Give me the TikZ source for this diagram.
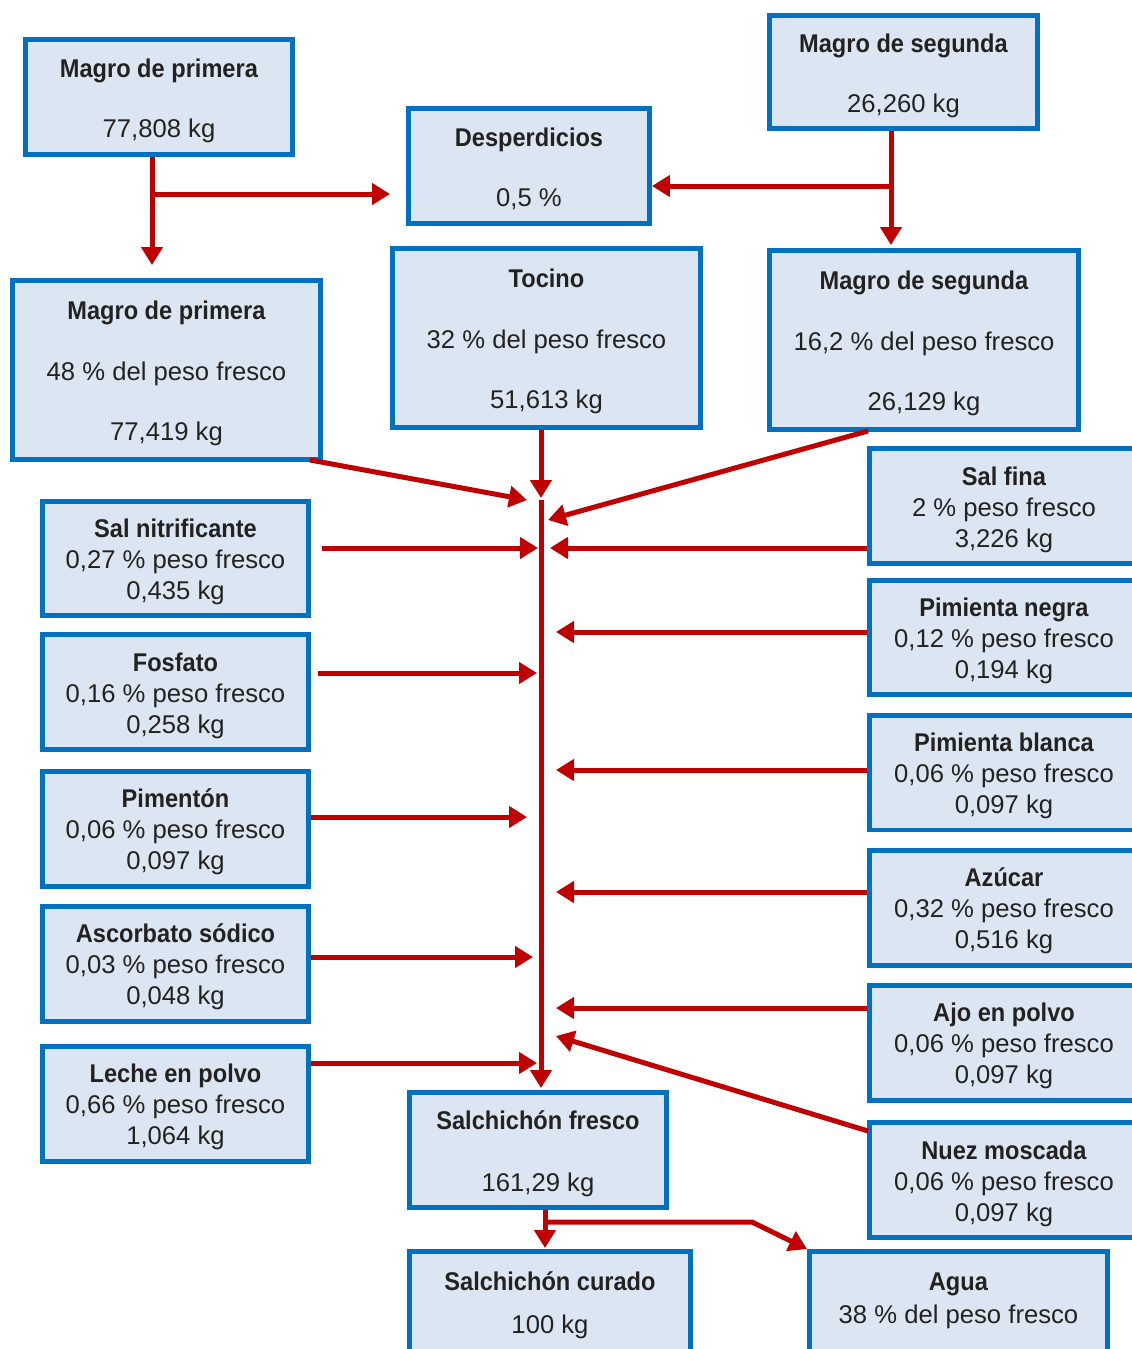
\documentclass[tikz,border=0pt]{standalone}
\usepackage{fontspec}
\setmainfont{Liberation Sans}[BoldFeatures={FakeStretch=0.92}]
\usetikzlibrary{arrows.meta}

\definecolor{boxblue}{RGB}{0,112,192}
\definecolor{boxfill}{RGB}{220,230,242}
\definecolor{flowred}{RGB}{192,0,0}
\definecolor{inkgray}{RGB}{34,34,34}
\newcommand{\hdstrut}{\rule{0pt}{16.6pt}}
\newcommand{\kgstrut}[1][5pt]{\rule[-#1]{0pt}{#1}}

\begin{document}
\begin{tikzpicture}
    [%%%%%%%%%%%%%%%%%%%%%%%%%%%%%%
        x=0.02cm, y=-0.02cm,
        box/.style={rectangle,draw=boxblue,line width=0.1cm,fill=boxfill,text=inkgray,
            align=center,inner sep=0pt,font=\fontsize{14.6}{17.6}\selectfont},
        side/.style={box,minimum width=5.32cm,minimum height=2.3cm},
        big/.style={box,minimum width=6.16cm,minimum height=3.58cm},
        flow/.style={draw=flowred,line width=0.1cm,-{Triangle[length=0.36cm,width=0.42cm]}},
    ]%%%%%%%%%%%%%%%%%%%%%%%%%%%%%%

\useasboundingbox (0,0) rectangle (1132,1349);
\clip (0,0) rectangle (1132,1349);

% raw meat
\node[box,minimum width=5.34cm,minimum height=2.3cm] (mp1) at (159,97)
    {\hdstrut\textbf{Magro de primera}\\[16.4pt]77,808 kg\kgstrut};
\node[box,minimum width=4.82cm,minimum height=2.3cm] (desp) at (529,166)
    {\hdstrut\textbf{Desperdicios}\\[16.4pt]0,5 \%\kgstrut};
\node[box,minimum width=5.36cm,minimum height=2.26cm] (ms1) at (903.5,72)
    {\hdstrut\textbf{Magro de segunda}\\[16.4pt]26,260 kg\kgstrut};

\node[big] (mp2) at (166.5,370)
    {\hdstrut\textbf{Magro de primera}\\[17pt]48 \% del peso fresco\\[17pt]77,419 kg\kgstrut};
\node[big] (tocino) at (546.5,338)
    {\hdstrut\textbf{Tocino}\\[17pt]32 \% del peso fresco\\[17pt]51,613 kg\kgstrut};
\node[big,minimum width=6.18cm] (ms2) at (924,340)
    {\hdstrut\textbf{Magro de segunda}\\[17pt]16,2 \% del peso fresco\\[17pt]26,129 kg\kgstrut};

% ingredients
\foreach \nm/\y/\ttl/\pct/\kgs in {salnit/558.5/Sal nitrificante/{0,27}/{0,435},
    fosfato/692/Fosfato/{0,16}/{0,258}, pimenton/828.5/Pimentón/{0,06}/{0,097},
    ascorbato/963.5/Ascorbato sódico/{0,03}/{0,048}, leche/1103.5/Leche en polvo/{0,66}/{1,064}}
    \node[side] (\nm) at (175.5,\y) {\hdstrut\textbf{\ttl}\\\pct~\% peso fresco\\\kgs~kg\kgstrut};

\foreach \nm/\y/\ttl/\pct/\kgs in {salfina/506/Sal fina/2/{3,226},
    pneg/637.5/Pimienta negra/{0,12}/{0,194}, pblanca/772.5/Pimienta blanca/{0,06}/{0,097},
    azucar/907.5/Azúcar/{0,32}/{0,516}, ajo/1042.5/Ajo en polvo/{0,06}/{0,097},
    nuez/1180/Nuez moscada/{0,06}/{0,097}}
    \node[side,minimum width=5.38cm] (\nm) at (1004,\y) {\hdstrut\textbf{\ttl}\\\pct~\% peso fresco\\\kgs~kg\kgstrut};

% product
\node[box,minimum width=5.14cm,minimum height=2.3cm] (sfresco) at (538,1150)
    {\hdstrut\textbf{Salchichón fresco}\\[17.6pt]161,29 kg\kgstrut};
\node[box,minimum width=5.62cm,minimum height=2.52cm] (scurado) at (550,1314.5)
    {\hdstrut\textbf{Salchichón curado}\\[6.9pt]100 kg\kgstrut[19.3pt]};
\node[box,minimum width=5.96cm,minimum height=2.52cm] (agua) at (958.5,1314.5)
    {\hdstrut\textbf{Agua}\\[1.1pt]38 \% del peso fresco\kgstrut[25.3pt]};

\coordinate (mpfork) at (152,194);
\coordinate (msfork) at (891,186);
\coordinate (trunk) at (541,500);
\coordinate (mptip) at (527,500);
\coordinate (mstip) at (548,520);
\coordinate (nueztip) at (556,1036);
\coordinate (sffork) at (545,1222);
\coordinate (sfbend) at (752,1222);

\draw[flow,shorten >=0.26cm] (mpfork |- mp1.south) -- (mpfork |- mp2.north);
\draw[flow,shorten >=0.32cm] (mpfork) -- (mpfork -| desp.west);
\draw[flow,shorten >=0.06cm] (msfork |- ms1.south) -- (msfork |- ms2.north);
\draw[flow] (msfork) -- (msfork -| desp.east);

\draw[flow,shorten >=0.04cm] (trunk |- tocino.south) -- (trunk);
\draw[flow,shorten >=0.04cm] (trunk) -- (trunk |- sfresco.north);
\draw[flow] ([shift={(-13,-2)}]mp2.south east) -- (mptip);
\draw[flow] ([shift={(101,-1)}]ms2.south west) -- (mstip);

\foreach \nm/\y/\gapa/\gapb in {salnit/548/0.22/0.06, fosfato/673/0.14/0.08,
    pimenton/817/0/0.28, ascorbato/957/0/0.16, leche/1063/0/0.08}
    \draw[flow,shorten <=\gapa cm,shorten >=\gapb cm] (\nm.east |- 0,\y) -- (trunk |- 0,\y);

\foreach \nm/\y/\gapb in {salfina/548/0.18, pneg/632/0.3, pblanca/770/0.3,
    azucar/892/0.3, ajo/1008/0.3}
    \draw[flow,shorten >=\gapb cm] (\nm.west |- 0,\y) -- (trunk |- 0,\y);
\draw[flow] ([shift={(1,-49)}]nuez.west) -- (nueztip);

\draw[flow,shorten >=0.02cm] (sffork |- sfresco.south) -- (sffork |- scurado.north);
\draw[flow] (sffork) -- (sfbend) -- (agua.north west);
\end{tikzpicture}
\end{document}
